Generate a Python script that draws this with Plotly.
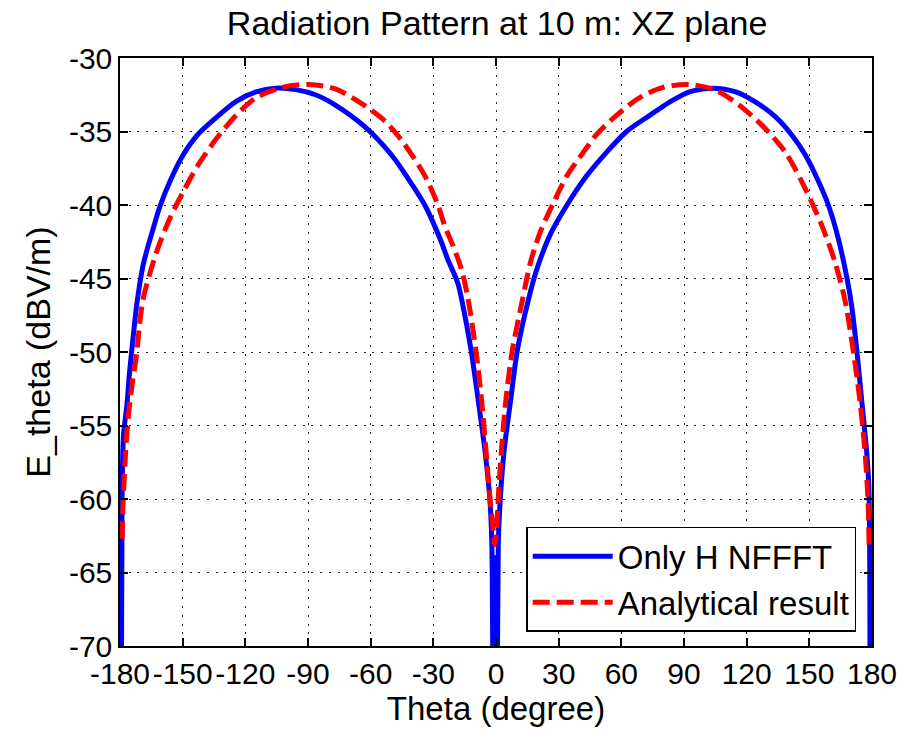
import plotly.graph_objects as go

# Radiation pattern of E_theta in the XZ plane at 10 m (dBV/m)
# Nulls are stored as -80 dB so they run off the bottom of the axes.

# Near-field to far-field transform using only H
theta_nfft = [
    -179.5, -179.0, -178.3, -176.7, -175.5, -173.5, -172.0, -168.8, -164.1,
    -160.9, -156.1, -149.8, -142.7, -133.9, -124.4, -114.9, -105.4, -95.9,
    -86.4, -76.9, -62.6, -50.0, -42.1, -34.1, -26.2, -23.1, -18.3, -15.9,
    -12.0, -8.5, -5.3, -2.9, -2.0, -1.2, -0.45, 0.3, 1.1, 2.0, 3.9, 7.0,
    10.2, 15.4, 19.7, 26.0, 34.0, 43.5, 53.0, 62.5, 73.6, 83.1, 92.6, 103.7,
    114.8, 124.3, 133.8, 141.7, 148.1, 154.4, 159.1, 163.9, 167.9, 170.2,
    172.6, 175.0, 177.4, 178.5, 179.0,
]
e_nfft = [
    -80.0, -59.5, -55.6, -53.6, -51.5, -48.7, -46.8, -44.0, -41.6,
    -40.1, -38.4, -36.6, -35.2, -34.05, -32.95, -32.3, -32.05, -32.15,
    -32.5, -33.2, -34.7, -36.6, -38.2, -40.0, -42.5, -43.7, -45.3, -46.8,
    -49.8, -53.3, -56.7, -60.1, -63.0, -80.0, -64.0, -80.0, -63.0, -60.1,
    -56.7, -53.3, -49.9, -46.5, -44.3, -42.0, -40.0, -38.0, -36.4, -35.0,
    -33.9, -33.0, -32.3, -32.05, -32.3, -33.0, -34.0, -35.25, -36.6, -38.4,
    -40.0, -42.3, -44.9, -46.8, -49.7, -53.2, -56.7, -59.2, -80.0,
]

# Analytical reference
theta_ana = [
    -179.0, -178.6, -178.0, -177.5, -176.7, -175.5, -173.9, -172.0, -170.7,
    -168.8, -162.5, -156.1, -149.0, -142.7, -133.9, -124.4, -114.9, -102.3,
    -89.6, -76.9, -64.3, -53.1, -45.2, -34.1, -27.8, -24.6, -20.5, -16.7,
    -13.5, -9.6, -6.9, -4.8, -2.8, -1.2, -0.5, 0.4, 1.0, 2.6, 4.7, 7.8,
    12.6, 16.5, 21.3, 27.7, 34.0, 41.9, 48.2, 57.7, 68.8, 79.9, 92.6, 105.3,
    116.3, 127.5, 138.5, 148.1, 156.0, 162.3, 167.1, 171.0, 174.2, 176.6,
    178.1, 178.6,
]
e_ana = [
    -62.7, -60.5, -58.7, -57.3, -55.5, -53.7, -51.9, -50.1, -48.2,
    -46.3, -43.2, -40.9, -38.9, -37.3, -35.5, -33.9, -32.7, -32.0,
    -31.8, -32.1, -33.1, -34.3, -35.6, -38.0, -40.0, -41.4, -42.8, -44.3,
    -46.3, -49.9, -53.3, -56.7, -60.1, -62.3, -63.1, -61.7, -60.1, -56.7,
    -53.3, -49.9, -46.5, -43.9, -41.8, -39.8, -38.0, -36.4, -35.2, -33.9,
    -32.7, -32.0, -31.8, -32.2, -33.2, -34.6, -36.4, -38.9, -41.4, -43.9,
    -46.5, -49.9, -53.3, -56.7, -60.1, -63.1,
]

x_ticks = [-180, -150, -120, -90, -60, -30, 0, 30, 60, 90, 120, 150, 180]
y_ticks = [-70, -65, -60, -55, -50, -45, -40, -35, -30]

FONT = "Liberation Sans, Arial, Helvetica, sans-serif"

fig = go.Figure()
fig.add_trace(go.Scatter(
    x=theta_nfft, y=e_nfft, mode="lines", name="Only H NFFFT",
    line=dict(color="#0000ff", width=5, shape="spline", smoothing=0.8),
))
fig.add_trace(go.Scatter(
    x=theta_ana, y=e_ana, mode="lines", name="Analytical result",
    line=dict(color="#ff0000", width=5, dash="17px,7px",
              shape="spline", smoothing=0.8),
))

axis_common = dict(
    showline=True, linecolor="black", linewidth=1.5, mirror="ticks",
    ticks="inside", ticklen=8, tickwidth=1.5, tickcolor="black",
    showgrid=True, gridcolor="#222222", gridwidth=1, griddash="2px,6.7px",
    zeroline=False, tickfont=dict(family=FONT, size=30, color="black"),
)

fig.update_layout(
    width=909, height=731,
    margin=dict(l=120, r=31, t=58, b=85),
    paper_bgcolor="white", plot_bgcolor="white",
    font=dict(family=FONT, color="black"),
    title=dict(
        text="Radiation Pattern at 10 m: XZ plane",
        font=dict(family=FONT, size=34, color="black"),
        x=0.5469, xanchor="center", y=0.968, yanchor="middle",
    ),
    xaxis=dict(
        range=[-180, 180], tickvals=x_ticks,
        ticktext=[str(v) for v in x_ticks],
        title=dict(text="Theta (degree)", font=dict(family=FONT, size=33), standoff=0),
        **axis_common,
    ),
    yaxis=dict(
        range=[-70, -30], tickvals=y_ticks,
        ticktext=[str(v) for v in y_ticks],
        title=dict(text="E_theta (dBV/m)", font=dict(family=FONT, size=34), standoff=8),
        **axis_common,
    ),
    legend=dict(
        x=0.979, y=0.024, xanchor="right", yanchor="bottom",
        bgcolor="white", bordercolor="black", borderwidth=1.5,
        font=dict(family=FONT, size=33, color="black"),
        itemwidth=80, tracegroupgap=0,
    ),
    showlegend=True,
)

fig.write_html("out.html")
